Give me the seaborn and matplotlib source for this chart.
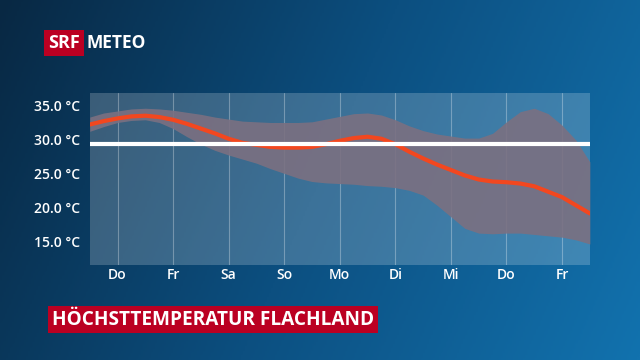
import numpy as np
import pandas as pd
import matplotlib
matplotlib.use("Agg")
import matplotlib.pyplot as plt
from matplotlib.colors import LinearSegmentedColormap
from matplotlib.patches import Rectangle
import seaborn as sns

# Tage (Positionen 0..8), Werte im Viertel-Tag-Raster von -0.5 bis 8.5
days = ["Do", "Fr", "Sa", "So", "Mo", "Di", "Mi", "Do", "Fr"]
t = np.arange(-0.5, 8.5001, 0.25)

median = [32.2, 32.7, 33.1, 33.4, 33.5, 33.3, 32.9, 32.3, 31.6, 30.9,
          30.1, 29.5, 29.2, 28.9, 28.8, 28.8, 28.9, 29.3, 29.8, 30.2,
          30.4, 30.1, 29.3, 28.2, 27.2, 26.3, 25.5, 24.7, 24.1, 23.8,
          23.7, 23.5, 23.1, 22.3, 21.5, 20.3, 19.1]
upper = [33.3, 33.9, 34.2, 34.5, 34.6, 34.5, 34.3, 34.0, 33.7, 33.3,
         33.0, 32.7, 32.6, 32.5, 32.5, 32.5, 32.6, 33.0, 33.4, 33.8,
         33.9, 33.6, 32.9, 32.0, 31.3, 30.8, 30.5, 30.2, 30.2, 30.9,
         32.6, 34.1, 34.6, 33.8, 32.1, 29.9, 26.7]
lower = [31.2, 31.9, 32.5, 32.8, 32.9, 32.5, 31.6, 30.4, 29.3, 28.4,
         27.7, 27.1, 26.5, 25.7, 25.0, 24.3, 23.8, 23.6, 23.5, 23.4,
         23.2, 23.1, 22.9, 22.5, 21.8, 20.3, 18.6, 16.9, 16.2, 16.1,
         16.2, 16.2, 16.0, 15.8, 15.6, 15.2, 14.6]
klimamittel = 29.3
yticks = [15, 20, 25, 30, 35]

df = pd.DataFrame({"t": t, "median": median, "upper": upper, "lower": lower})

sns.set_style("white")
plt.rcParams["font.family"] = ["Open Sans", "DejaVu Sans"]

W, H = 640, 360
fig = plt.figure(figsize=(6.4, 3.6), dpi=100)

# Hintergrundverlauf
bg = fig.add_axes([0, 0, 1, 1])
gx, gy = np.meshgrid(np.linspace(0, 1, 300), np.linspace(0, 1, 200))
grad = 0.8 * gx + 0.2 * gy
cmap = LinearSegmentedColormap.from_list("srf", ["#082843", "#0c4f80", "#1272ae"])
bg.imshow(grad, cmap=cmap, aspect="auto", extent=[0, 1, 0, 1], origin="upper")
bg.set_xlim(0, 1)
bg.set_ylim(0, 1)
bg.set_axis_off()

ax = fig.add_axes([0.1403, 0.2639, 0.7813, 0.4769])
ax.set_facecolor((1, 1, 1, 0.2))

for i in range(len(days)):
    ax.axvline(i, color="white", alpha=0.3, lw=0.8, zorder=1)

ax.fill_between(df["t"], df["lower"], df["upper"], color="#7b7081", alpha=0.9,
                lw=0, zorder=2)
sns.lineplot(data=df, x="t", y="median", ax=ax, color="#f2471f", lw=3.0, zorder=3)
ax.axhline(klimamittel, color="white", lw=3, zorder=4)

ax.set_xlim(-0.5, 8.5)
ax.set_ylim(11.5, 36.8)
ax.set_xticks(range(len(days)))
ax.set_xticklabels(days)
ax.set_yticks(yticks)
ax.set_yticklabels([f"{v:.1f} °C" for v in yticks])
ax.tick_params(colors="white", labelsize=10, length=0)
ax.tick_params(axis="y", pad=7)
ax.tick_params(axis="x", pad=2)
for lab in ax.get_xticklabels() + ax.get_yticklabels():
    lab.set_fontweight(600)
ax.set_xlabel("")
ax.set_ylabel("")
for s in ax.spines.values():
    s.set_visible(False)


def px_rect(x0, y0, x1, y1, color):
    bg.add_patch(Rectangle((x0 / W, 1 - y1 / H), (x1 - x0) / W, (y1 - y0) / H,
                           fc=color, ec="none"))


# Logo
px_rect(44, 30, 84, 56, "#bb0022")
bg.text(64 / W, 1 - 43.5 / H, "SRF", color="white", fontsize=13, fontweight="bold",
        va="center", ha="center")
bg.text(87 / W, 1 - 43.5 / H, "METEO", color="white", fontsize=12.5, fontweight="bold",
        va="center", ha="left")

# Titel
px_rect(48, 306, 378, 333, "#bb0022")
bg.text(213 / W, 1 - 320 / H, "HÖCHSTTEMPERATUR FLACHLAND", color="white",
        fontsize=13.7, fontweight="bold", va="center", ha="center")

fig.savefig("out.png", dpi=100)
